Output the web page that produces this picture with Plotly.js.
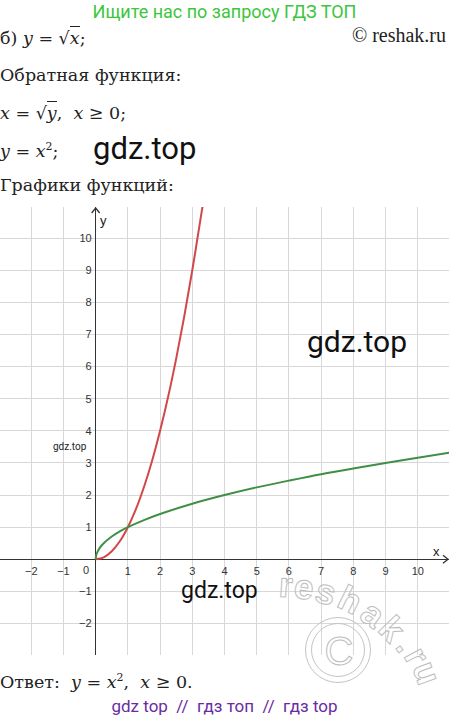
<!DOCTYPE html>
<html><head><meta charset="utf-8">
<script src="https://cdn.plot.ly/plotly-3.0.1.min.js"></script>
<style>
html,body{margin:0;padding:0;background:#fff;width:449px;height:719px;overflow:hidden}
#plot{position:absolute;left:0;top:0;width:449px;height:719px}
.t{position:absolute;white-space:nowrap;line-height:24px;z-index:5;pointer-events:none}
.serif{font-family:"DejaVu Serif","Liberation Serif",serif;font-size:17.5px;color:#222}
.m{font-style:italic}
.ov{border-top:1.3px solid #222;padding-top:1px}
.wm{position:absolute;z-index:4;pointer-events:none;color:transparent;-webkit-text-stroke:1px #bdbdbd;font-family:"Liberation Sans",sans-serif;font-weight:bold;font-size:35px;line-height:30px;white-space:nowrap;transform:translate(-50%,-50%)}
.ring{position:absolute;z-index:4;pointer-events:none;border:1px solid #c4c4c4;border-radius:50%;transform:translate(-50%,-50%)}
</style></head>
<body>
<div id="plot"></div>
<div class="t" style="left:0;width:449px;text-align:center;top:0px;font-family:Roboto,sans-serif;font-size:18px;color:#3cc63c">Ищите нас по запросу ГДЗ ТОП</div>
<div class="t serif" style="left:0;top:26px">б) <span class="m">y</span> = √<span class="ov"><span class="m">x</span></span>;</div>
<div class="t serif" style="right:3px;top:23px;font-size:20px;font-family:'Liberation Serif',serif">© reshak.ru</div>
<div class="t serif" style="left:0;top:63px">Обратная функция:</div>
<div class="t serif" style="left:0;top:101px"><span class="m">x</span> = √<span class="ov"><span class="m">y</span></span>,&nbsp;&nbsp;<span class="m">x</span> ≥ 0;</div>
<div class="t serif" style="left:0;top:135px"><span class="m">y</span> = <span class="m">x</span><sup style="font-size:11px">2</sup>;</div>
<div class="t" style="left:93px;top:135px;font-family:Roboto,sans-serif;font-size:31px;color:#111;line-height:28px">gdz.top</div>
<div class="t serif" style="left:0;top:173px">Графики функций:</div>
<div class="t serif" style="left:0;top:672px;line-height:20px">Ответ:&nbsp;&nbsp;<span class="m">y</span> = <span class="m">x</span><sup style="font-size:11px;line-height:0">2</sup>,&nbsp;&nbsp;<span class="m">x</span> ≥ 0.</div>
<div class="t" style="left:0;width:449px;text-align:center;top:696px;line-height:20px;font-family:Roboto,sans-serif;font-size:17px;color:#6a2ca0">gdz top&nbsp;&nbsp;//&nbsp;&nbsp;гдз топ&nbsp;&nbsp;//&nbsp;&nbsp;гдз top</div>
<div class="ring" style="left:338px;top:650px;width:64px;height:64px"></div>
<div class="ring" style="left:338px;top:650px;width:52px;height:52px"></div>
<div class="wm" style="left:339px;top:651px;font-size:40px;line-height:40px;font-weight:normal">C</div>
<div class="wm" style="left:286px;top:585px;transform:translate(-50%,-50%) rotate(4deg)">r</div>
<div class="wm" style="left:304px;top:587px;transform:translate(-50%,-50%) rotate(8deg)">e</div>
<div class="wm" style="left:326px;top:592px;transform:translate(-50%,-50%) rotate(16deg)">s</div>
<div class="wm" style="left:350px;top:600px;transform:translate(-50%,-50%) rotate(26deg)">h</div>
<div class="wm" style="left:373px;top:614px;transform:translate(-50%,-50%) rotate(36deg)">a</div>
<div class="wm" style="left:392px;top:629px;transform:translate(-50%,-50%) rotate(46deg)">k</div>
<div class="wm" style="left:407px;top:644px;transform:translate(-50%,-50%) rotate(54deg)">.</div>
<div class="wm" style="left:417px;top:656px;transform:translate(-50%,-50%) rotate(62deg)">r</div>
<div class="wm" style="left:427px;top:673px;transform:translate(-50%,-50%) rotate(70deg)">u</div>
<script>
// Red curve y = x^2
const redX = [0, 0.25, 0.5, 0.75, 1, 1.25, 1.5, 1.75, 2, 2.25, 2.5, 2.75, 3, 3.25, 3.32];
const redY = [0, 0.06, 0.25, 0.56, 1, 1.56, 2.25, 3.06, 4, 5.06, 6.25, 7.56, 9, 10.56, 11.0];
// Green curve y = sqrt(x)
const greenX = [0, 0.02, 0.06, 0.12, 0.25, 0.5, 0.75, 1, 1.5, 2, 3, 4, 5, 6, 7, 8, 9, 10, 11];
const greenY = [0, 0.14, 0.24, 0.35, 0.5, 0.71, 0.87, 1, 1.22, 1.41, 1.73, 2, 2.24, 2.45, 2.65, 2.83, 3, 3.16, 3.32];
const xTicks = [-2, -1, 1, 2, 3, 4, 5, 6, 7, 8, 9, 10];
const yTicks = [-2, -1, 1, 2, 3, 4, 5, 6, 7, 8, 9, 10];
const xRange = [-2.97, 10.97];
const yRange = [-2.98, 10.97];

const traces = [
  {x: redX, y: redY, mode: 'lines', line: {color: '#d24848', width: 2, shape: 'spline'}, hoverinfo: 'skip'},
  {x: greenX, y: greenY, mode: 'lines', line: {color: '#3f8f45', width: 2, shape: 'spline'}, hoverinfo: 'skip'}
];
const tickFont = {family: 'Liberation Sans, Arial, sans-serif', size: 11, color: '#333'};
const layout = {
  width: 449, height: 719,
  margin: {l: 0, r: 0, t: 207, b: 64, pad: 0},
  paper_bgcolor: 'rgba(0,0,0,0)', plot_bgcolor: '#fff',
  showlegend: false,
  xaxis: {range: xRange, dtick: 1, tick0: 0, showgrid: true, gridcolor: '#d8d8d8', gridwidth: 1,
          zeroline: true, zerolinecolor: '#333', zerolinewidth: 1.5,
          anchor: 'free', position: (0 - yRange[0]) / (yRange[1] - yRange[0]),
          tickmode: 'array', tickvals: xTicks, ticks: '', tickfont: tickFont, ticklabelstandoff: 4,
          showline: false, fixedrange: true},
  yaxis: {range: yRange, dtick: 1, tick0: 0, showgrid: true, gridcolor: '#d8d8d8', gridwidth: 1,
          zeroline: true, zerolinecolor: '#333', zerolinewidth: 1.5,
          anchor: 'free', position: (0 - xRange[0]) / (xRange[1] - xRange[0]),
          tickmode: 'array', tickvals: yTicks, ticks: '', tickfont: tickFont, ticklabelstandoff: 4,
          showline: false, fixedrange: true},
  shapes: [
    {type: 'path', xref: 'x', yref: 'y', xsizemode: 'pixel', ysizemode: 'pixel', xanchor: xRange[1], yanchor: 0,
     path: 'M -6 4 L -1 0 L -6 -4', line: {color: '#333', width: 1.3}},
    {type: 'path', xref: 'x', yref: 'y', xsizemode: 'pixel', ysizemode: 'pixel', xanchor: 0, yanchor: yRange[1],
     path: 'M -4 -6 L 0 -1 L 4 -6', line: {color: '#333', width: 1.3}}
  ],
  annotations: [
    {x: 0, y: 0, text: '0', showarrow: false, xshift: -10, yshift: -11, font: tickFont},
    {x: 0, y: yRange[1], text: 'y', showarrow: false, xshift: 8, yshift: -13, font: {family: 'Liberation Sans, Arial', size: 13, color: '#222'}},
    {x: xRange[1], y: 0, text: 'x', showarrow: false, xshift: -13, yshift: 8, font: {family: 'Liberation Sans, Arial', size: 13, color: '#222'}},
    {x: 8.11, y: 6.77, text: 'gdz.top', showarrow: false, font: {family: 'Roboto, sans-serif', size: 30, color: '#111'}},
    {x: 3.83, y: -0.96, text: 'gdz.top', showarrow: false, font: {family: 'Roboto, sans-serif', size: 23, color: '#111'}},
    {x: -0.8, y: 3.5, text: 'gdz.top', showarrow: false, font: {family: 'Roboto, sans-serif', size: 10, color: '#222'}}
  ]
};
Plotly.newPlot('plot', traces, layout, {staticPlot: true, displayModeBar: false});
</script>
</body></html>
